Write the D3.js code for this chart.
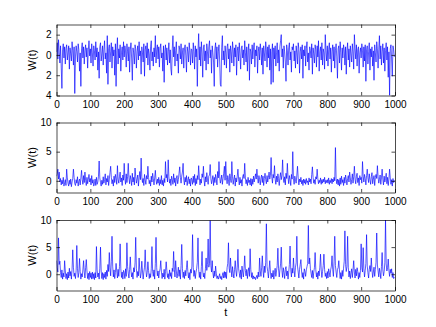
<!DOCTYPE html>
<html lang="en">
<head>
<meta charset="UTF-8">
<title>W(t) traces</title>
<style>
    body { margin: 0; background: #fff; }
    svg { display: block; font-family: "Liberation Sans", Arial, Helvetica, sans-serif; }
    .axis text { font-size: 10px; fill: #000; }
    .axis path, .axis line { stroke: #000; stroke-width: 0.7; }
    .trace { fill: none; stroke: #0000ff; stroke-width: 0.65; stroke-linejoin: round; }
    .lab { font-size: 11px; fill: #000; }
</style>
</head>
<body>
<svg id="chart" width="436" height="327"></svg>
<script src="https://d3js.org/d3.v7.min.js"></script>
<script>
// samples every 2 steps of t (0..998)
var w1 = [
 0.3,1.2,-0.4,1.5,0.2,-0.8,0.9,-1.2,-3.3,0.5,1.1,-0.3,0.8,-0.9,0.6,1.0,-0.5,0.2,0.9,-1.4,0.7,0.1,-0.6,1.3,0.4,-1.0,0.8,-3.8,-0.2,0.9,0.3,-0.7,1.1,0.5,-1.6,0.2,-3.1,0.6,1.2,-0.3,0.8,-0.9,0.4,1.0,-0.2,0.7,-1.3,0.5,1.4,-0.1,
 0.6,-0.8,1.1,0.2,-1.1,0.9,0.4,-0.5,1.3,-0.2,0.7,-1.5,0.3,-2.3,0.8,1.2,-0.6,0.1,0.9,-1.0,0.5,1.4,-0.4,0.2,-1.8,1.9,-2.9,0.6,1.0,-0.7,0.3,1.2,-1.3,0.8,-0.1,0.5,-2.0,1.1,-3.1,0.4,1.7,-0.9,0.6,-0.3,1.0,-1.6,0.2,0.8,-0.5,1.3,
 -0.2,0.9,0.4,-1.2,1.1,0.3,-0.6,0.8,-1.7,0.5,1.2,-0.4,-2.5,0.7,0.2,-0.9,1.0,0.6,-1.3,0.3,0.9,-0.5,1.3,-0.1,0.4,-1.9,0.8,0.2,-0.7,1.1,-2.1,0.5,0.9,-0.3,1.2,-1.0,0.6,0.1,-1.5,0.8,1.4,-0.6,0.3,-1.1,0.7,-0.2,1.9,-0.8,0.5,1.0,
 -0.4,0.8,-1.2,0.6,1.1,-0.3,0.2,-1.6,0.9,-2.7,0.4,1.0,-0.5,0.7,-1.0,0.3,1.2,-0.8,0.5,-1.4,-2.0,0.6,1.9,-0.2,0.8,-1.1,0.4,1.3,-0.6,0.1,-1.8,0.9,0.5,-0.4,1.1,-0.9,0.2,0.7,-1.3,0.6,1.0,-0.1,-1.7,0.8,0.3,-0.7,1.2,0.4,-1.0,0.6,
 0.5,-0.8,1.2,0.3,-1.4,0.9,-0.2,0.6,-3.1,0.4,2.1,-0.5,0.8,-1.1,1.3,0.2,-2.2,0.7,1.0,-0.6,0.4,-1.5,1.1,0.3,-0.9,0.8,1.4,-0.3,0.5,-1.8,0.9,0.2,-0.7,-3.1,0.6,1.2,-0.4,0.8,-1.2,0.3,1.0,-0.6,-2.9,-3.1,0.7,1.9,-0.5,0.4,-1.0,0.9,
 0.2,-1.3,0.8,1.1,-0.4,0.6,-1.7,0.9,0.3,-0.8,1.3,0.5,-1.1,0.7,-0.2,1.0,-2.0,0.4,0.8,-0.6,1.2,0.1,-1.4,0.6,0.9,-0.3,0.5,-1.0,1.4,0.2,-0.7,0.8,-1.6,0.4,1.1,-2.5,0.6,0.3,-0.9,1.0,-0.4,0.7,1.2,-1.2,0.5,-0.1,0.9,-1.8,0.3,0.8,
 -0.5,1.1,0.4,-1.0,0.7,-1.9,0.9,0.2,-0.6,1.3,0.5,-1.2,0.8,-0.3,1.0,-1.5,0.6,-2.9,0.3,1.1,-2.7,0.7,-0.4,0.9,-1.1,0.2,1.2,-0.8,0.5,-1.6,0.8,1.4,2.0,-0.2,0.6,-1.3,0.9,0.3,-0.7,-2.6,1.0,0.4,-1.0,0.7,1.2,-0.5,0.3,-1.7,0.8,0.5,
 1.1,-0.6,0.4,-1.3,0.9,0.2,-0.9,1.2,0.6,-1.8,0.3,0.8,-0.4,1.0,-2.3,0.5,-0.1,0.9,-1.1,0.6,1.3,-0.7,0.2,-1.5,0.8,0.4,-0.3,1.1,-1.9,0.7,0.1,-0.8,1.0,0.5,-1.2,0.9,-0.2,1.4,-1.6,0.3,0.8,-0.5,1.2,-1.0,0.6,0.2,-1.4,2.0,0.4,-0.6,
 0.9,-1.1,0.5,1.2,-0.4,0.7,-1.7,0.3,1.0,-0.6,0.8,-1.3,0.4,1.1,-0.2,-2.3,0.6,0.9,-0.8,1.3,0.2,-1.5,0.7,-0.3,1.0,0.5,-1.0,0.8,-1.9,0.4,1.2,-0.5,0.6,-1.2,0.9,0.1,-0.7,1.1,0.3,-1.4,2.0,0.6,-0.4,1.0,-1.1,0.5,0.8,-1.8,0.2,0.7,
 -0.3,1.1,0.4,-1.2,0.8,-0.6,1.0,-2.6,0.5,0.9,-0.9,0.3,1.2,-1.5,0.6,-0.2,0.8,-1.1,0.4,-2.5,1.0,0.2,-0.7,1.3,0.6,-1.3,0.5,1.9,-0.4,0.9,-1.0,0.3,1.1,-0.8,0.7,-1.6,0.4,1.2,-0.5,0.8,-2.2,0.3,-4.0,0.6,1.0,-0.4,-2.1,0.9,0.5,-0.2
];
var w2 = [
 0.8,1.2,2.0,0.3,1.5,-0.2,0.4,-0.7,0.1,-0.5,0.6,-0.9,-0.3,0.2,-0.8,2.0,0.5,-0.4,-0.9,0.1,-0.6,0.3,-1.0,-0.2,0.4,2.0,0.6,-0.5,-0.8,0.2,-0.4,0.7,-0.9,-0.1,0.3,-0.7,0.5,1.8,0.2,-0.6,0.9,-0.3,1.5,0.1,-0.8,0.6,-0.5,0.3,1.1,-0.2,
 0.4,-0.7,0.9,-0.4,0.2,-0.9,-0.5,0.3,-0.8,0.6,-0.6,-0.2,0.8,3.4,0.5,-0.3,-0.9,0.1,-0.6,0.7,-0.4,0.2,1.2,-0.7,0.4,-0.2,0.9,-0.8,0.3,1.4,2.5,0.6,-0.5,0.2,-0.9,0.8,-0.3,1.1,0.4,-0.6,2.6,0.3,-0.4,0.7,1.5,-0.2,0.5,-0.8,1.0,0.1,
 3.0,0.4,-0.6,1.2,-0.3,0.7,3.0,0.5,-0.5,0.9,0.2,-0.8,1.3,-0.2,0.6,-0.7,2.2,0.8,-0.4,0.3,1.0,-0.9,0.5,1.6,0.2,3.9,0.7,-0.3,0.4,-0.8,1.1,0.2,-0.6,0.9,0.3,2.5,0.6,-0.5,0.1,-0.9,0.8,-0.2,1.3,0.4,-0.7,0.5,1.8,0.2,-0.6,0.3,
 -0.4,0.6,-0.8,0.2,-0.5,0.9,-0.7,0.1,-0.9,0.4,-0.3,3.3,0.5,1.1,-0.2,3.6,0.7,-0.4,0.3,-0.8,0.8,0.2,-0.6,1.2,-0.3,0.5,-0.9,0.4,0.9,-0.5,0.2,1.3,2.4,0.6,-0.4,0.8,1.5,3.0,0.3,-0.7,0.6,-0.2,0.9,-0.8,0.1,0.7,-0.5,0.3,-0.9,0.5,
 0.2,-0.6,0.8,-0.3,1.1,-0.8,0.4,-0.5,0.9,0.2,2.6,0.5,-0.7,0.3,-0.4,1.2,0.6,2.5,0.1,-0.9,0.7,-0.2,1.4,0.3,-0.6,0.8,1.0,2.8,0.4,-0.5,0.2,0.9,-0.8,0.6,-0.3,1.1,0.3,-0.7,1.6,0.5,3.3,0.8,-0.4,0.2,1.0,-0.6,0.4,1.3,2.5,0.1,
 3.3,0.6,-0.5,0.9,0.2,-0.8,1.2,0.4,-0.3,3.3,0.7,-0.6,0.3,1.0,-0.9,0.5,-0.2,0.8,2.0,0.3,-0.7,0.6,-0.4,0.2,-0.9,0.7,1.1,0.4,3.0,0.5,-0.5,0.2,-0.8,0.6,-0.3,0.1,-0.7,0.4,-0.9,0.3,-0.6,0.8,-0.2,0.5,1.2,0.3,2.0,0.6,-0.4,0.9,
 0.2,-0.7,0.5,1.0,-0.3,0.8,-0.8,0.4,1.3,0.2,-0.5,0.9,-0.2,0.6,1.5,0.3,0.9,4.0,0.7,-0.4,1.1,0.5,2.6,0.3,-0.6,0.8,-0.2,1.2,0.4,-0.8,0.6,1.4,0.2,1.0,3.6,0.5,-0.3,0.7,-0.7,1.3,0.4,3.0,0.6,-0.5,0.9,0.2,-0.8,1.1,0.3,5.0,
 0.4,-0.6,0.8,0.2,-0.4,1.0,2.5,0.5,-0.7,0.3,-0.2,0.6,-0.5,0.1,-0.8,0.3,-0.4,0.2,-0.6,0.4,-0.3,0.0,-0.7,0.5,-0.2,0.3,-0.5,1.1,2.4,0.6,-0.4,0.2,-0.6,0.7,0.3,2.0,0.4,-0.5,0.1,-0.3,0.5,-0.6,0.2,-0.4,0.3,-0.2,0.6,-0.5,0.1,-0.3,
 0.2,-0.4,0.5,-0.6,0.1,-0.3,0.4,-0.5,0.3,-0.2,0.6,0.0,5.7,0.4,-0.5,0.3,-0.7,0.2,-0.9,0.5,-0.6,0.8,-0.3,0.2,-0.8,0.6,-0.4,1.0,0.3,-0.7,0.4,0.9,-0.2,1.5,0.5,-0.6,0.2,1.2,-0.4,0.7,2.5,0.3,-0.5,0.8,1.3,-0.3,0.5,-0.8,0.9,0.2,
 0.6,-0.4,3.3,0.8,-0.2,1.1,0.4,-0.7,0.9,2.0,0.5,-0.3,1.2,0.2,-0.6,0.7,1.4,-0.5,0.3,0.9,-0.8,0.6,1.1,0.4,2.6,0.7,-0.4,0.2,1.0,-0.6,0.5,2.0,0.3,-0.7,0.8,-0.2,0.4,1.3,-0.5,0.6,-0.8,0.3,2.0,0.5,-0.6,0.2,-0.9,0.4,-0.3,0.1
];
var w3 = [
 2.5,1.2,0.4,6.7,1.8,2.4,0.3,-0.6,0.8,-0.9,0.2,-0.5,2.5,0.6,-0.8,0.1,-1.0,0.4,-0.7,1.1,-0.3,0.5,-0.9,0.9,4.5,1.3,-0.4,0.2,-0.8,0.7,5.3,1.0,-0.6,0.3,2.9,0.5,-0.9,0.1,-0.5,0.8,2.5,0.4,-0.7,1.2,2.7,0.6,-0.8,0.2,-1.0,0.5,
 -0.6,0.2,-0.9,0.4,-0.8,0.1,-1.0,0.3,-0.7,5.1,0.8,-0.5,0.2,-0.9,1.1,5.0,0.6,-0.8,0.3,-1.0,0.1,-0.6,0.4,-0.9,0.7,-0.4,1.8,0.5,4.0,1.2,-0.3,2.3,7.0,1.5,-0.5,0.8,-0.8,0.3,2.0,0.6,-0.7,0.9,-0.4,1.4,5.6,1.0,-0.6,0.4,-0.9,0.7,
 0.3,-0.8,1.0,-0.4,5.8,1.4,0.2,-0.7,0.9,3.2,0.6,-0.5,0.3,-0.9,1.2,0.4,2.1,6.8,1.1,-0.6,0.5,-0.3,3.0,0.8,-0.7,0.2,2.4,0.6,-0.9,0.4,1.3,4.5,0.9,-0.5,0.3,2.3,0.7,-0.8,0.1,-0.6,1.0,5.1,0.5,-0.4,0.8,-0.9,2.0,6.8,1.2,-0.3,
 0.6,-0.7,0.3,1.0,2.5,0.4,-0.8,0.2,-0.5,0.9,-0.9,0.5,2.3,0.7,-0.6,0.1,-0.9,0.8,-0.4,0.3,-0.8,1.1,0.5,4.2,0.9,-0.5,2.5,0.6,-0.7,0.2,1.3,-0.4,0.8,-0.9,1.6,5.5,1.0,-0.6,0.4,-0.8,0.7,-0.3,1.2,2.5,0.5,-0.7,0.3,-1.0,0.9,0.2,
 1.5,7.3,1.2,-0.4,0.7,-0.8,0.3,1.0,2.2,6.7,0.9,-0.6,0.4,-0.9,1.4,4.2,0.6,-0.5,0.2,-0.8,1.1,3.0,0.7,1.8,6.5,1.3,2.0,9.9,1.6,0.4,2.5,0.3,-0.7,0.6,-0.4,1.5,0.2,-0.8,-0.3,-0.9,-0.5,0.1,-0.8,-0.4,-1.0,-0.2,0.3,-0.7,0.5,-0.6,
 0.4,-0.8,1.2,2.0,5.8,1.1,0.3,3.0,0.8,-0.5,1.4,0.2,-0.7,0.9,2.5,0.6,-0.4,1.3,4.6,1.0,0.2,-0.6,0.8,-0.9,1.5,0.4,-0.5,1.1,3.4,0.7,-0.3,0.9,-0.8,0.5,1.2,-0.4,4.7,0.9,-0.6,0.3,-0.9,-0.3,-0.8,-0.5,-1.0,-0.6,-0.2,-0.8,0.4,-0.5,
 3.0,0.6,-0.4,1.2,3.4,0.8,-0.6,1.5,0.3,2.2,9.3,1.4,0.5,-0.7,0.9,2.5,0.4,-0.8,0.2,-0.5,0.7,-0.9,0.3,1.1,-0.4,0.6,1.6,4.8,1.0,-0.5,0.8,1.9,5.0,0.7,-0.6,1.2,0.3,-0.8,0.9,1.4,-0.3,0.6,-0.9,0.4,1.8,5.2,0.9,-0.5,1.1,0.2,
 3.0,0.7,-0.5,1.3,2.1,7.0,1.5,0.4,-0.7,0.9,1.8,2.7,0.6,-0.6,0.3,-0.9,1.0,0.5,-0.4,0.8,1.4,2.0,9.0,1.9,3.0,1.1,0.2,-0.6,0.7,-0.8,0.4,1.2,4.0,0.9,-0.5,0.3,-0.9,0.6,-0.3,1.3,3.7,0.8,-0.6,0.5,1.6,3.7,0.9,-0.4,0.2,-0.8,
 0.5,-0.7,1.0,0.3,-0.5,0.8,1.5,3.4,0.9,-0.4,2.3,7.0,1.6,0.4,-0.6,0.9,1.2,2.5,0.6,-0.8,0.3,-0.9,0.7,-0.4,1.1,2.4,8.0,1.8,0.5,1.4,7.0,1.3,-0.5,0.6,-0.8,0.2,1.0,-0.6,0.8,2.5,0.4,-0.7,0.9,-0.3,1.2,0.5,-0.9,0.3,-0.6,0.7,
 5.6,1.2,0.4,4.9,1.0,-0.5,0.7,2.0,7.3,1.5,0.3,-0.7,0.9,1.6,0.5,3.0,0.8,-0.6,0.4,1.3,-0.4,0.9,2.2,7.6,1.7,0.6,-0.5,1.1,0.3,-0.8,1.4,4.0,0.8,-0.3,0.5,2.1,10.0,1.9,0.6,1.2,2.8,0.7,-0.4,0.9,0.2,1.0,-0.6,0.3,-0.8,-0.5
];

var xTicks = [0, 100, 200, 300, 400, 500, 600, 700, 800, 900, 1000];
var yTicks1 = [-4, -2, 0, 2];
var yTicks2 = [0, 5, 10];
var yTicks3 = [0, 5, 10];

var svg = d3.select("#chart");
var left = 56.5, right = 395;

var panels = [
    { data: w1, domain: [-4, 3], ticks: yTicks1, top: 24.5, bottom: 95.5 },
    { data: w2, domain: [-2, 10], ticks: yTicks2, top: 122.5, bottom: 192.5 },
    { data: w3, domain: [-3, 10], ticks: yTicks3, top: 220, bottom: 290.5 }
];

var x = d3.scaleLinear().domain([0, 1000]).range([left, right]);

panels.forEach(function (p, k) {
    var y = d3.scaleLinear().domain(p.domain).range([p.bottom, p.top]);

    svg.append("clipPath").attr("id", "clip" + k)
        .append("rect")
        .attr("x", left).attr("y", p.top)
        .attr("width", right - left).attr("height", p.bottom - p.top);

    var line = d3.line()
        .x(function (d, i) { return x(i * 2); })
        .y(function (d) { return y(d); });

    svg.append("path")
        .datum(p.data)
        .attr("class", "trace")
        .attr("clip-path", "url(#clip" + k + ")")
        .attr("d", line);

    // inward ticks on all four sides, labels only bottom/left
    svg.append("g").attr("class", "axis")
        .attr("transform", "translate(0," + p.bottom + ")")
        .call(d3.axisBottom(x).tickValues(xTicks).tickSizeInner(-3.5).tickSizeOuter(0).tickPadding(5)
            .tickFormat(d3.format("d")));
    svg.append("g").attr("class", "axis")
        .attr("transform", "translate(0," + p.top + ")")
        .call(d3.axisTop(x).tickValues(xTicks).tickSizeInner(-3.5).tickSizeOuter(0).tickFormat(""));
    svg.append("g").attr("class", "axis")
        .attr("transform", "translate(" + left + ",0)")
        .call(d3.axisLeft(y).tickValues(p.ticks).tickSizeInner(-3.5).tickSizeOuter(0).tickPadding(5)
            .tickFormat(function (d) { return Math.abs(d); }));
    svg.append("g").attr("class", "axis")
        .attr("transform", "translate(" + right + ",0)")
        .call(d3.axisRight(y).tickValues(p.ticks).tickSizeInner(-3.5).tickSizeOuter(0).tickFormat(""));

    svg.append("text").attr("class", "lab")
        .attr("transform", "translate(36," + ((p.top + p.bottom) / 2) + ") rotate(-90)")
        .attr("text-anchor", "middle")
        .text("W(t)");
});

svg.append("text").attr("class", "lab")
    .attr("x", (left + right) / 2).attr("y", 316)
    .attr("text-anchor", "middle")
    .text("t");
</script>
</body>
</html>
